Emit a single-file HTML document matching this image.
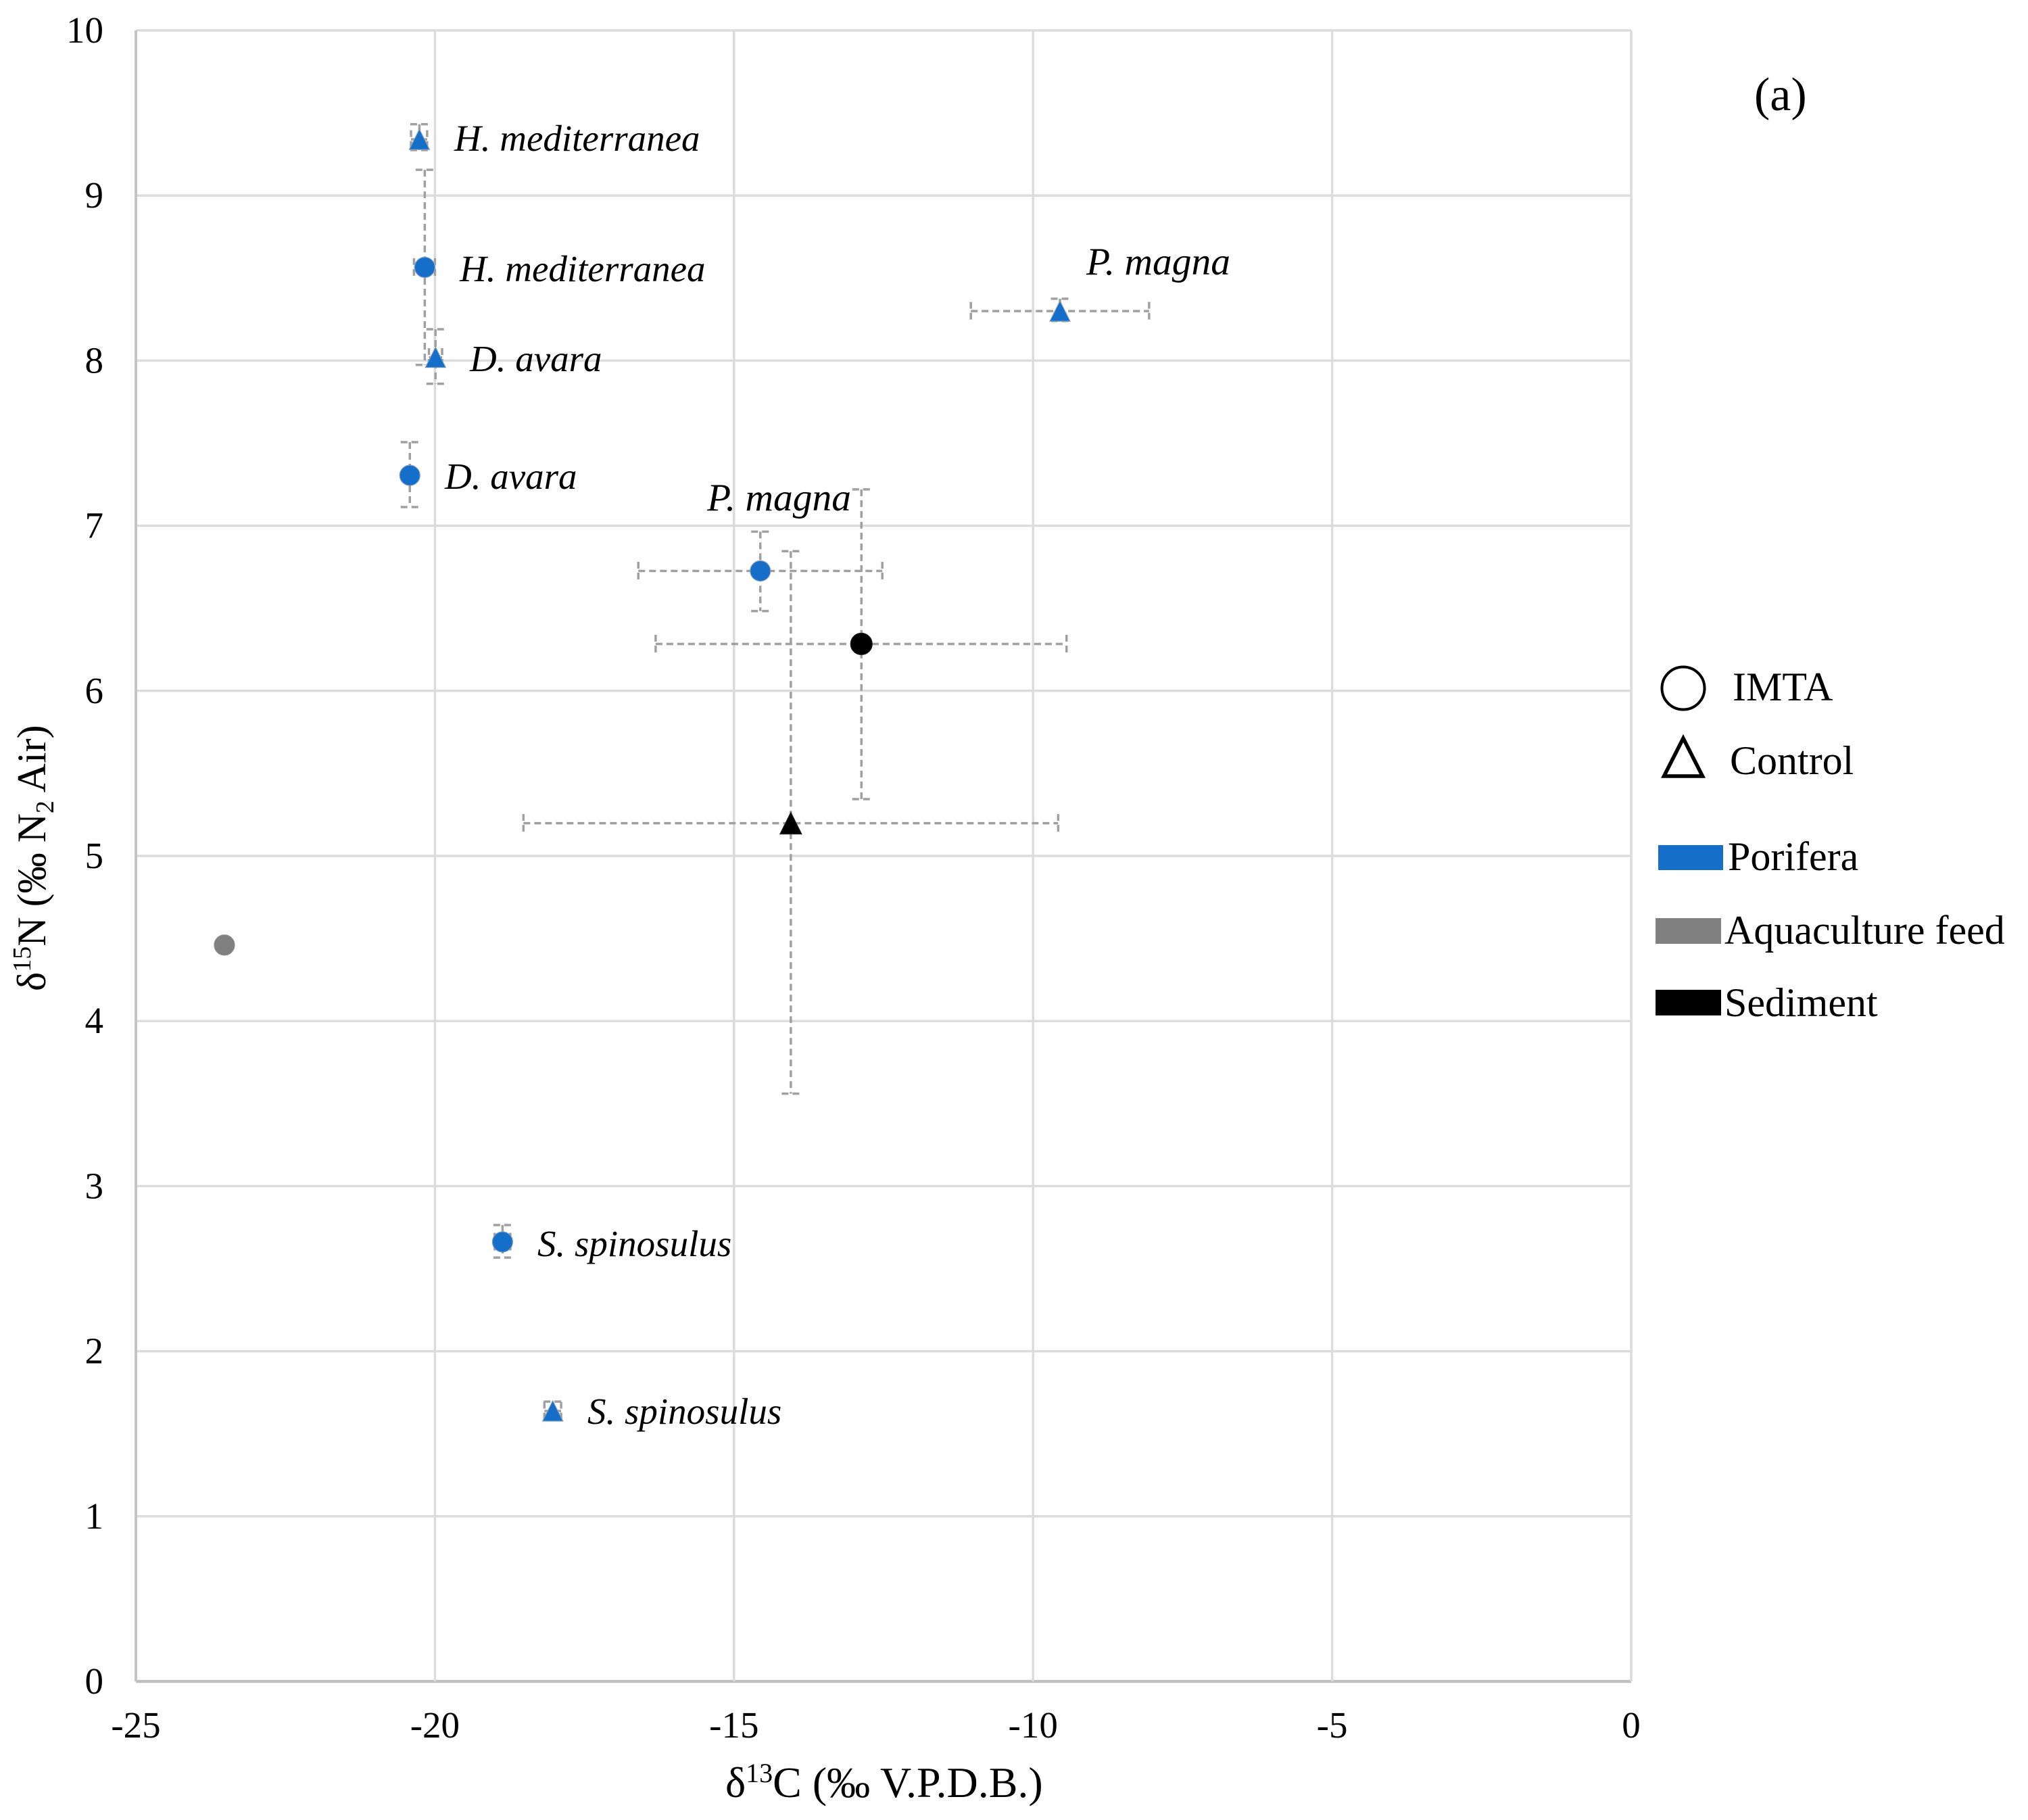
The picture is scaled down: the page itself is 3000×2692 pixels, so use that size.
<!DOCTYPE html>
<html lang="en">
<head>
<meta charset="utf-8">
<title>δ13C versus δ15N scatter chart</title>
<style>
  html, body { margin: 0; padding: 0; background: #fff; }
  svg { display: block; font-family: "Liberation Serif", "DejaVu Serif", serif; fill: #000; }
  .lab { font-style: italic; font-size: 55px; }
  .lab-wide { font-style: italic; font-size: 57.5px; }
  .tick { font-size: 55px; }
  .leg { font-size: 60px; }
</style>
</head>
<body>
<svg id="chart" xmlns="http://www.w3.org/2000/svg" width="3000" height="2692" viewBox="0 0 3000 2692">
  <rect x="0" y="0" width="3000" height="2692" fill="#ffffff"/>
  <g id="grid"></g>
  <g id="xticks"></g>
  <g id="yticks"></g>
  <g id="errs"></g>
  <g id="marks"></g>

  <text class="lab" x="672" y="223">H. mediterranea</text>
  <text class="lab" x="680" y="416">H. mediterranea</text>
  <text class="lab" x="695" y="549">D. avara</text>
  <text class="lab" x="658" y="723">D. avara</text>
  <text class="lab-wide" x="1607" y="406">P. magna</text>
  <text class="lab-wide" x="1046" y="755">P. magna</text>
  <text class="lab" x="795" y="1858">S. spinosulus</text>
  <text class="lab" x="869" y="2106">S. spinosulus</text>

  <text font-size="64" x="1073" y="2658">δ<tspan font-size="40" dy="-22">13</tspan><tspan dy="22">C (‰ V.P.D.B.)</tspan></text>
  <text font-size="60" transform="translate(67,1466) rotate(-90)">δ<tspan font-size="38" dy="-22">15</tspan><tspan dy="22">N (‰ N</tspan><tspan font-size="38" dy="12">2</tspan><tspan dy="-12"> Air)</tspan></text>
  <text x="2595" y="163" font-size="70">(a)</text>

  <g>
    <circle cx="2490" cy="1018" r="31.5" fill="none" stroke="#000" stroke-width="4"/>
    <text class="leg" x="2563" y="1036">IMTA</text>
    <polygon points="2490,1092 2518.5,1148 2461.5,1148" fill="none" stroke="#000" stroke-width="5.5"/>
    <text class="leg" x="2559" y="1145">Control</text>
    <rect x="2453" y="1250" width="96" height="37" fill="#156EC8"/>
    <text class="leg" x="2556" y="1287">Porifera</text>
    <rect x="2449" y="1358" width="97" height="38" fill="#808080"/>
    <text class="leg" font-size="60.5" x="2551" y="1396">Aquaculture feed</text>
    <rect x="2449" y="1464" width="97" height="38" fill="#000000"/>
    <text class="leg" x="2551" y="1503">Sediment</text>
  </g>
</svg>
<script>
var xTicks = [-25, -20, -15, -10, -5, 0];
var yTicks = [0, 1, 2, 3, 4, 5, 6, 7, 8, 9, 10];

var pointNames = ['h-mediterranea-control', 'h-mediterranea-imta', 'd-avara-control', 'd-avara-imta', 'p-magna-control', 'p-magna-imta', 's-spinosulus-imta', 's-spinosulus-control', 'sediment-imta', 'sediment-control', 'aquaculture-feed'];
var pointShapes = ['triangle', 'circle', 'triangle', 'circle', 'triangle', 'circle', 'circle', 'triangle', 'circle', 'triangle', 'circle'];
var pointGroups = ['porifera', 'porifera', 'porifera', 'porifera', 'porifera', 'porifera', 'porifera', 'porifera', 'sediment', 'sediment', 'feed'];
var d13C = [-20.26, -20.17, -19.99, -20.42, -9.55, -14.56, -18.87, -18.03, -12.87, -14.05, -23.52];
var d15N = [9.34, 8.565, 8.02, 7.305, 8.30, 6.726, 2.662, 1.638, 6.284, 5.198, 4.46];
var d13CLow = [-20.40, -20.35, -20.10, -20.44, -11.04, -16.60, -19.00, -18.17, -16.31, -18.52, -23.52];
var d13CHigh = [-20.13, -20.00, -19.88, -20.40, -8.06, -12.52, -18.74, -17.89, -9.44, -9.58, -23.52];
var d15NLow = [9.275, 7.974, 7.86, 7.113, 8.24, 6.483, 2.567, 1.60, 5.344, 3.56, 4.46];
var d15NHigh = [9.432, 9.156, 8.19, 7.506, 8.375, 6.964, 2.764, 1.695, 7.22, 6.846, 4.46];

var SVGNS = 'http://www.w3.org/2000/svg';
var plotLeft = 201, plotRight = 2413, plotTop = 45, plotBottom = 2487;
var capHalf = 13.5;
var groupFill = { porifera: '#156EC8', sediment: '#000000', feed: '#808080' };
var groupEdge = { porifera: '#7d9dc0', sediment: '#222222', feed: '#8c8c8c' };

function xScale(v) { return plotLeft + (v - xTicks[0]) / (xTicks[xTicks.length - 1] - xTicks[0]) * (plotRight - plotLeft); }
function yScale(v) { return plotBottom - (v - yTicks[0]) / (yTicks[yTicks.length - 1] - yTicks[0]) * (plotBottom - plotTop); }

function svgEl(tag, props, parent) {
  var el = document.createElementNS(SVGNS, tag);
  for (var k in props) { el.setAttribute(k, props[k]); }
  parent.appendChild(el);
  return el;
}

var grid = document.getElementById('grid');
var xTickGroup = document.getElementById('xticks');
var yTickGroup = document.getElementById('yticks');
var errGroup = document.getElementById('errs');
var markGroup = document.getElementById('marks');

yTicks.forEach(function (t) {
  var isAxis = t === yTicks[0];
  var line = svgEl('line', { x1: plotLeft, x2: plotRight, y1: yScale(t), y2: yScale(t), stroke: isAxis ? '#bfbfbf' : '#dcdcdc', 'stroke-width': isAxis ? 4.5 : 3.5 }, grid);
  
  
  var label = svgEl('text', { x: 153, y: yScale(t) + 18, 'text-anchor': 'end', 'class': 'tick' }, yTickGroup);
  label.textContent = t;
  
  
});

xTicks.forEach(function (t) {
  var isAxis = t === xTicks[0];
  var line = svgEl('line', { x1: xScale(t), x2: xScale(t), y1: plotTop, y2: plotBottom, stroke: isAxis ? '#c4c4c4' : '#dcdcdc', 'stroke-width': isAxis ? 4 : 3.5 }, grid);
  
  
  var label = svgEl('text', { x: xScale(t), y: 2570, 'text-anchor': 'middle', 'class': 'tick' }, xTickGroup);
  label.textContent = t;
  
  
});

function dashed(x1, y1, x2, y2, parent) {
  return svgEl('line', { x1: x1, y1: y1, x2: x2, y2: y2, stroke: '#a0a0a0', 'stroke-width': 3.5, 'stroke-dasharray': '10 6' }, parent);
}

pointNames.forEach(function (name, i) {
  if (pointGroups[i] === 'feed') { return; }
  var cx = xScale(d13C[i]), cy = yScale(d15N[i]);
  var xa = xScale(d13CLow[i]), xb = xScale(d13CHigh[i]);
  var ya = yScale(d15NHigh[i]), yb = yScale(d15NLow[i]);
  var g = svgEl('g', {}, errGroup);
  
  
  dashed(cx, ya, cx, yb, g);
  dashed(cx - capHalf, ya, cx + capHalf, ya, g);
  dashed(cx - capHalf, yb, cx + capHalf, yb, g);
  dashed(xa, cy, xb, cy, g);
  dashed(xa, cy - capHalf, xa, cy + capHalf, g);
  dashed(xb, cy - capHalf, xb, cy + capHalf, g);
});

pointNames.forEach(function (name, i) {
  var cx = xScale(d13C[i]), cy = yScale(d15N[i]);
  var fill = groupFill[pointGroups[i]], edge = groupEdge[pointGroups[i]];
  var mark;
  if (pointShapes[i] === 'circle') {
    var r = pointGroups[i] === 'sediment' ? 16 : 15;
    mark = svgEl('circle', { cx: cx, cy: cy, r: r, fill: fill, stroke: edge, 'stroke-width': 1.2 }, markGroup);
  } else {
    var h = pointGroups[i] === 'sediment' ? 16 : 15;
    mark = svgEl('polygon', { points: cx + ',' + (cy - h) + ' ' + (cx + h) + ',' + (cy + h) + ' ' + (cx - h) + ',' + (cy + h), fill: fill, stroke: edge, 'stroke-width': 1.2 }, markGroup);
  }
  
  
});
</script>
</body>
</html>
